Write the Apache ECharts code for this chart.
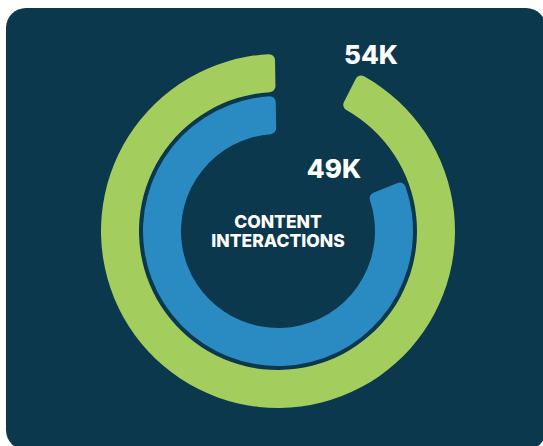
<!DOCTYPE html>
<html>
<head>
<meta charset="utf-8">
<script src="https://cdn.jsdelivr.net/npm/echarts@6/dist/echarts.min.js"></script>
<style>
	html, body { margin: 0; padding: 0; background: #fff; overflow: hidden; }
	#card { position: absolute; left: 6px; top: 8px; width: 540px; height: 442px; border-radius: 20px; background: #0b384d; }
	#main { position: absolute; left: 0; top: 0; width: 543px; height: 446px; }
</style>
</head>
<body>
<div id="card"></div>
<div id="main"></div>
<script>
// ring data: outer = green, inner = blue
var seriesNames = ['outer', 'inner'];
var valueLabels = ['54K', '49K'];
var fillPercent = [92.2, 80.8]; // share of the full circle each ring covers
var centerLines = ['CONTENT', 'INTERACTIONS'];

var colors = ['#a3ce5d', '#2a8bc3'];
var radii = [[139, 177], [97, 135]];
var labelPos = [[371, 54], [334, 168]];

var myChart = echarts.init(document.getElementById('main'), null, { renderer: 'svg' });

var series = [];
var titles = [];
for (var i = 0; i < seriesNames.length; i++) {
	series.push({
		name: seriesNames[i],
		type: 'pie',
		center: [278, 231],
		radius: radii[i],
		startAngle: 91,
		clockwise: false,
		silent: true,
		label: { show: false },
		labelLine: { show: false },
		data: [
			{ value: fillPercent[i], itemStyle: { color: colors[i], borderRadius: 6 } },
			{ value: 100 - fillPercent[i], itemStyle: { color: 'transparent' } }
		]
	});
	titles.push({
		text: valueLabels[i],
		left: labelPos[i][0],
		top: labelPos[i][1],
		padding: 0,
		textAlign: 'center',
		textVerticalAlign: 'middle',
		textStyle: { color: '#fff', fontFamily: 'Inter', fontWeight: 800, fontSize: 26 }
	});
}

titles.push({
	text: centerLines.join('\n'),
	left: 278,
	top: 231,
	padding: 0,
	textAlign: 'center',
	textVerticalAlign: 'middle',
	textStyle: { color: '#fff', fontFamily: 'Inter', fontWeight: 800, fontSize: 17.5, lineHeight: 19 }
});

var option = {
	backgroundColor: 'transparent',
	animation: false,
	title: titles,
	series: series
};

myChart.setOption(option);
</script>
</body>
</html>
